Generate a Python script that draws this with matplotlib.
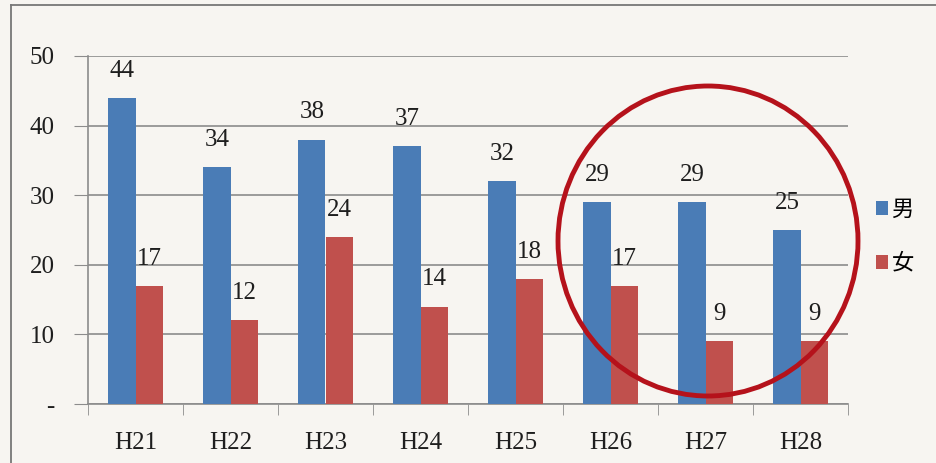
import matplotlib.pyplot as plt
import matplotlib.patches as patches
import numpy as np

# values
years = ['H21', 'H22', 'H23', 'H24', 'H25', 'H26', 'H27', 'H28']
male = [44, 34, 38, 37, 32, 29, 29, 25]
female = [17, 12, 24, 14, 18, 17, 9, 9]
yticks = [0, 10, 20, 30, 40, 50]
ylabels = ['-', '10', '20', '30', '40', '50']

plt.rcParams['font.family'] = ['Liberation Serif', 'Noto Sans CJK JP']

bg = '#f7f5f1'
blue = '#4a7cb6'
red = '#c0504d'
grid = '#8c8c8c'
txt = '#1e1e1e'

fig = plt.figure(figsize=(9.36, 4.63), dpi=100)
fig.patch.set_facecolor(bg)
ax = fig.add_axes([88/936, 1-404/463, 760/936, 348/463])
ax.set_facecolor(bg)

x = np.arange(len(years))
w = 0.285
b1 = ax.bar(x - w/2, male, w, color=blue, label='男', zorder=3)
b2 = ax.bar(x + w/2, female, w, color=red, label='女', zorder=3)

for bars, vals in ((b1, male), (b2, female)):
    for r, v in zip(bars, vals):
        ax.text(r.get_x() + r.get_width()/2, v + 3.9, str(v),
                ha='center', va='center', fontsize=18, color=txt)

ax.set_xlim(-0.5, len(years) - 0.5)
ax.set_ylim(0, 50)
ax.set_yticks(yticks)
ax.set_yticklabels(ylabels, fontsize=18, color=txt)
ax.set_xticks(x)
ax.set_xticklabels(years, fontsize=18, color=txt)
ax.tick_params(axis='x', length=0, pad=20)
ax.set_xticks(np.arange(-0.5, len(years)), minor=True)
ax.tick_params(axis='x', which='minor', length=8, color=grid)
ax.tick_params(axis='y', length=10, color=grid, pad=14)
ax.yaxis.grid(True, color=grid, linewidth=1.2, zorder=0)
for s in ['top', 'right']:
    ax.spines[s].set_visible(False)
for s in ['left', 'bottom']:
    ax.spines[s].set_color(grid)
    ax.spines[s].set_linewidth(1.2)

fig.legend(handles=[b1, b2], loc='center left', bbox_to_anchor=(876/936, 1-238/463),
           frameon=False, fontsize=16, handlelength=0.55, handleheight=0.55,
           handletextpad=0.15, labelspacing=1.5, borderpad=0, borderaxespad=0)

# outer frame
fig.add_artist(plt.Line2D([11/936, 11/936], [0, 1-5/463], color='#777777', lw=1.3))
fig.add_artist(plt.Line2D([11/936, 1], [1-5/463, 1-5/463], color='#777777', lw=1.3))

# red circle around H26-H28
circ = patches.Ellipse((708/936, 1-241/463), 300/936, 310/463, fill=False,
                       edgecolor='#b5121b', linewidth=3.5, transform=fig.transFigure)
fig.add_artist(circ)

fig.savefig('out.png', dpi=100, facecolor=bg)
